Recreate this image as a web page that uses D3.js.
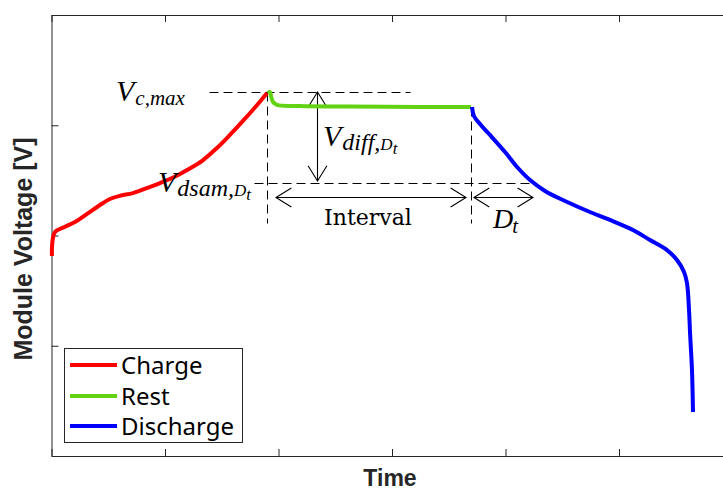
<!DOCTYPE html>
<html>
<head>
<meta charset="utf-8">
<script src="https://cdn.jsdelivr.net/npm/d3@7"></script>
<style>
  body { margin: 0; background: #fff; }
  svg { display: block; }
</style>
</head>
<body>
<div id="chart"></div>
<script>
// Chart size, the axes box runs off the right side of the picture
const width = 723;
const height = 490;
const margin = { left: 51.5, top: 15, right: -9.5, bottom: 34 };

// (time and voltage in axis units)
const chargeTime = [0.004, 0.004, 0.013, 0.031, 0.12, 0.207, 0.32, 0.427, 0.515, 0.60, 0.718, 0.84, 0.956, 1.08, 1.194, 1.33, 1.458, 1.57, 1.687, 1.80, 1.899];
const chargeVolt = [1.814, 1.887, 1.977, 2.032, 2.08, 2.122, 2.20, 2.277, 2.331, 2.36, 2.385, 2.43, 2.476, 2.53, 2.594, 2.68, 2.794, 2.91, 3.039, 3.17, 3.293];

const restTime = [1.907, 1.925, 1.934, 1.952, 1.987, 2.189, 2.630, 3.247, 3.696];
const restVolt = [3.293, 3.302, 3.265, 3.211, 3.184, 3.175, 3.170, 3.166, 3.166];

const dischargeTime = [3.705, 3.722, 3.775, 3.863, 3.996, 4.110, 4.216, 4.348, 4.524, 4.744, 4.921, 5.123, 5.273, 5.423, 5.511, 5.573, 5.599, 5.617, 5.626, 5.643, 5.652];
const dischargeVolt = [3.166, 3.084, 3.011, 2.912, 2.757, 2.612, 2.503, 2.404, 2.313, 2.213, 2.141, 2.050, 1.959, 1.868, 1.778, 1.669, 1.569, 1.324, 1.116, 0.780, 0.399];

// Annotation values
const vCmax = 3.302;
const vDsam = 2.476;
const tChargeEnd = 1.899;
const tRestEnd = 3.696;
const tDtEnd = 4.242;

const xTicks = [0, 1, 2, 3, 4, 5, 6];
const yTicks = [0, 1, 2, 3, 4];

const seriesNames = ["Charge", "Rest", "Discharge"];
const seriesColors = ["#ff0000", "#62d313", "#0000ff"];

const axisColor = "#262626";

const svg = d3.select("#chart")
  .append("svg")
  .attr("width", width)
  .attr("height", height);

const x = d3.scaleLinear()
  .domain([0, 6])
  .range([margin.left, width - margin.right]);

const y = d3.scaleLinear()
  .domain([0, 4])
  .range([height - margin.bottom, margin.top]);

// Axes box with inward ticks
const tickLen = 7;
svg.append("g")
  .attr("transform", `translate(0,${y(0)})`)
  .call(d3.axisBottom(x).tickValues(xTicks).tickSizeInner(-tickLen).tickSizeOuter(0).tickFormat(""))
  .call(g => g.selectAll("line, path").attr("stroke", axisColor));

svg.append("g")
  .attr("transform", `translate(0,${y(4)})`)
  .call(d3.axisTop(x).tickValues(xTicks).tickSizeInner(-tickLen).tickSizeOuter(0).tickFormat(""))
  .call(g => g.selectAll("line, path").attr("stroke", axisColor));

svg.append("g")
  .attr("transform", `translate(${x(0)},0)`)
  .call(d3.axisLeft(y).tickValues(yTicks).tickSizeInner(-tickLen).tickSizeOuter(0).tickFormat(""))
  .call(g => g.selectAll("line, path").attr("stroke", axisColor));

// Axis titles
svg.append("text")
  .attr("x", x(3) - 2)
  .attr("y", 486)
  .attr("text-anchor", "middle")
  .attr("font-family", "Liberation Sans, Arial, sans-serif")
  .attr("font-weight", "bold")
  .attr("font-size", 23)
  .attr("fill", axisColor)
  .text("Time");

svg.append("text")
  .attr("transform", `translate(32,249) rotate(-90)`)
  .attr("text-anchor", "middle")
  .attr("font-family", "Liberation Sans, Arial, sans-serif")
  .attr("font-weight", "bold")
  .attr("font-size", 25)
  .attr("fill", axisColor)
  .text("Module Voltage [V]");

// Dashed guides
const dash = "9,5";
const guides = [
  [1.388, vCmax, 3.159, vCmax],
  [tChargeEnd, vCmax, tChargeEnd, 2.113],
  [tRestEnd, 3.166, tRestEnd, 2.113],
  [1.784, vDsam, 4.207, vDsam]
];
svg.selectAll(".guide")
  .data(guides)
  .enter()
  .append("line")
  .attr("class", "guide")
  .attr("x1", d => Math.round(x(d[0])) + 0.5)
  .attr("y1", d => Math.round(y(d[1])) + 0.5)
  .attr("x2", d => Math.round(x(d[2])) + 0.5)
  .attr("y2", d => Math.round(y(d[3])) + 0.5)
  .attr("stroke", "#000")
  .attr("stroke-width", 1)
  .attr("stroke-dasharray", dash);

// Double arrows with open heads
function arrow(x1, y1, x2, y2) {
  const g = svg.append("g").attr("stroke", "#000").attr("stroke-width", 1.1).attr("fill", "none");
  g.append("line").attr("x1", x1).attr("y1", y1).attr("x2", x2).attr("y2", y2);
  const ang = Math.atan2(y2 - y1, x2 - x1);
  const len = 18, spread = 0.55;
  [[x1, y1, ang], [x2, y2, ang + Math.PI]].forEach(([px, py, a]) => {
    g.append("path").attr("d",
      `M${px + len * Math.cos(a + spread)},${py + len * Math.sin(a + spread)}L${px},${py}L${px + len * Math.cos(a - spread)},${py + len * Math.sin(a - spread)}`);
  });
}
arrow(Math.round(x(2.339)) + 0.5, y(vCmax), Math.round(x(2.339)) + 0.5, y(2.494));
arrow(x(1.978), Math.round(y(2.349)) + 0.5, x(3.652), Math.round(y(2.349)) + 0.5);
arrow(x(3.722), Math.round(y(2.349)) + 0.5, x(tDtEnd), Math.round(y(2.349)) + 0.5);

// Data lines
const line = d3.line()
  .x(d => x(d[0]))
  .y(d => y(d[1]))
  .curve(d3.curveCatmullRom);

const series = [
  d3.zip(chargeTime, chargeVolt),
  d3.zip(restTime, restVolt),
  d3.zip(dischargeTime, dischargeVolt)
];

svg.selectAll(".series")
  .data(series)
  .enter()
  .append("path")
  .attr("class", "series")
  .attr("d", line)
  .attr("fill", "none")
  .attr("stroke", (d, i) => seriesColors[i])
  .attr("stroke-width", 4)
  .attr("stroke-linejoin", "round");

// Math labels: base letter, subscript, optional sub-subscript
const mathFont = "Liberation Serif, Times New Roman, serif";
function mathLabel(px, py, base, sub, subsub, subSize) {
  const t = svg.append("text")
    .attr("x", px)
    .attr("y", py)
    .attr("font-family", mathFont)
    .attr("font-style", "italic")
    .attr("fill", "#000")
    .attr("font-size", 30);
  t.append("tspan").text(base);
  t.append("tspan").attr("dx", 1).attr("dy", 4).attr("font-size", subSize).text(sub);
  if (subsub) {
    t.append("tspan").attr("dy", 0).attr("font-size", 17).text(subsub[0]);
    t.append("tspan").attr("dy", 4).attr("font-size", 17).text(subsub[1]);
  }
}
mathLabel(116, 101, "V", "c,max", null, 21);
mathLabel(158, 192, "V", "dsam,", ["D", "t"], 24);
mathLabel(323, 146, "V", "diff,", ["D", "t"], 24);

const dt = svg.append("text")
  .attr("x", 493)
  .attr("y", 228)
  .attr("font-family", mathFont)
  .attr("font-style", "italic")
  .attr("fill", "#000")
  .attr("font-size", 28);
dt.append("tspan").text("D");
dt.append("tspan").attr("dx", -1).attr("dy", 5).attr("font-size", 21).text("t");

svg.append("text")
  .attr("x", 368)
  .attr("y", 225)
  .attr("text-anchor", "middle")
  .attr("font-family", "DejaVu Serif, serif")
  .attr("font-size", 22)
  .attr("fill", "#000")
  .text("Interval");

// Legend
const legend = svg.append("g");
legend.append("rect")
  .attr("x", 64.5)
  .attr("y", 348.5)
  .attr("width", 178)
  .attr("height", 94)
  .attr("fill", "#fff")
  .attr("stroke", axisColor)
  .attr("stroke-width", 1);

const legendY = [365, 396, 426];
seriesNames.forEach((name, i) => {
  legend.append("line")
    .attr("x1", 70).attr("x2", 117)
    .attr("y1", legendY[i]).attr("y2", legendY[i])
    .attr("stroke", seriesColors[i])
    .attr("stroke-width", 4);
  legend.append("text")
    .attr("x", 121)
    .attr("y", legendY[i] + 9)
    .attr("font-family", "Noto Sans, sans-serif")
    .attr("font-size", 24)
    .attr("fill", "#000")
    .text(name);
});
</script>
</body>
</html>
